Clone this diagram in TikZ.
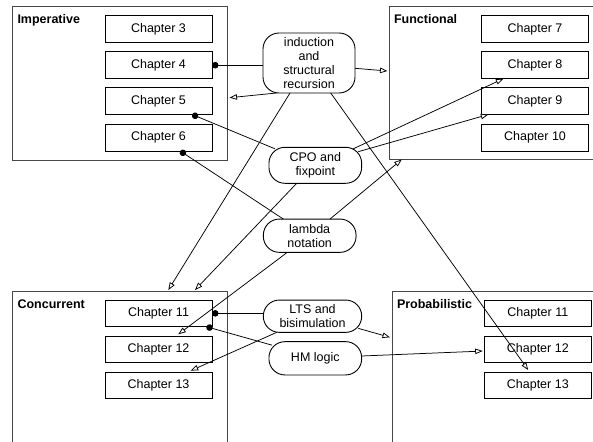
\documentclass[tikz,border=0pt]{standalone}
\usepackage{fontspec}
\setmainfont{Liberation Sans}
\usetikzlibrary{arrows.meta,calc}
\begin{document}
\begin{tikzpicture}[x=1pt,y=-1pt,
  every node/.style={font=\fontsize{12.5}{14.3}\selectfont, inner sep=0pt, outer sep=0pt},
  container/.style={draw=black!72, line width=1pt, minimum width=#1, anchor=north west},
  chap/.style={draw, line width=0.9pt, minimum width=107pt, minimum height=27pt, anchor=north west},
  topic/.style={draw, line width=0.9pt, rounded corners=16pt, align=center},
  grp/.style={font=\fontsize{12.5}{14.3}\selectfont\bfseries, anchor=base west},
  conn/.style={line width=0.75pt},
  oa/.style={-{Triangle[length=7.5pt,width=5.5pt,fill=white]}},
  dot/.style={{Circle[length=6.5pt]}-},
]
\useasboundingbox (0,0) rectangle (593,441);
\clip (0,0) rectangle (593,441);
% containers
\node[container=215pt, minimum height=153pt] (imp) at (12,7) {};
\node[container=215pt, minimum height=152pt] (fun) at (389,7) {};
\node[container=215pt, minimum height=170pt] (conc) at (12,291) {};
\node[container=215pt, minimum height=170pt] (prob) at (392,291) {};
\node[grp] (impl) at (17.5,24) {Imperative};
\node[grp] (funl) at (394,24) {Functional};
\node[grp] (concl) at (17.5,308) {Concurrent};
\node[grp] (probl) at (397,308) {Probabilistic};
% chapters
\node[chap] (ch3) at (105,15.7) {Chapter 3};
\node[chap] (ch4) at (105,51.7) {Chapter 4};
\node[chap] (ch5) at (105,87.5) {Chapter 5};
\node[chap] (ch6) at (105,124) {Chapter 6};
\node[chap, minimum width=106.6pt] (ch7) at (481.7,15.7) {Chapter 7};
\node[chap, minimum width=106.6pt] (ch8) at (481.7,51.7) {Chapter 8};
\node[chap, minimum width=106.6pt] (ch9) at (481.7,87.5) {Chapter 9};
\node[chap, minimum width=106.6pt] (ch10) at (481.7,124) {Chapter 10};
\node[chap, minimum height=26.7pt] (c11) at (105,300) {Chapter 11};
\node[chap, minimum height=26.7pt] (c12) at (105,336) {Chapter 12};
\node[chap, minimum height=26.7pt] (c13) at (105,372) {Chapter 13};
\node[chap, minimum height=26.7pt] (p11) at (484.3,300) {Chapter 11};
\node[chap, minimum height=26.7pt] (p12) at (484.3,336) {Chapter 12};
\node[chap, minimum height=26.7pt] (p13) at (484.3,372) {Chapter 13};
% topics
\node[topic, minimum width=92pt, minimum height=60pt] (ind) at (309,63) {induction\\and\\structural\\recursion};
\node[topic, minimum width=92.7pt, minimum height=36pt] (cpo) at (315.3,165.3) {CPO and\\fixpoint};
\node[topic, minimum width=92.7pt, minimum height=33.3pt] (lam) at (309.7,235.7) {lambda\\notation};
\node[topic, minimum width=98.4pt, minimum height=32.3pt] (lts) at (312.5,316.2) {LTS and\\bisimulation};
\node[topic, minimum width=92.7pt, minimum height=33.3pt] (hm) at (315.3,358.3) {HM logic};
% connectors
\draw[conn,dot] (ch4.east) -- (ch4.east -| ind.west);
\draw[conn,oa] ($(ind.south west)+(13.7,0)$) -- ($(imp.east)+(2.5,14.2)$);
\draw[conn,oa] ($(ind.east)+(0,5.3)$) -- ($(fun.west)+(-1.5,-12)$);
\draw[conn,oa] ($(ind.south)+(-19,0)$) -- ($(conc.north west)+(156.3,-1)$);
\draw[conn,oa] ($(ind.south)+(21.7,0)$) -- ($(p13.north)+(-9.6,-2)$);
\draw[conn,dot] ($(ch5.south east)+(-19.8,0)$) -- ($(cpo.north west)+(6,1.5)$);
\draw[conn,dot] ($(ch6.south east)+(-31.8,0)$) -- ($(lam.north)+(-26.4,0)$);
\draw[conn,oa] ($(cpo.north east)+(-8.4,1.5)$) -- ($(ch8.south west)+(21.6,0)$);
\draw[conn,oa] ($(cpo.north east)+(-3.4,4.4)$) -- ($(ch9.south west)+(6.6,0)$);
\draw[conn,oa] ($(cpo.south)+(-18.6,0)$) -- ($(conc.north west)+(183,-1)$);
\draw[conn,oa] ($(lam.north)+(20.3,0)$) -- ($(fun.south west)+(12.7,0.5)$);
\draw[conn,oa] ($(lam.south)+(-22.4,0)$) -- ($(c12.north)+(19.8,-1.7)$);
\draw[conn,dot] (c11.east) -- (c11.east -| lts.west);
\draw[conn,oa] ($(lts.south east)+(-3.4,-4)$) -- ($(prob.north west)+(-2,46.3)$);
\draw[conn,oa] ($(lts.south west)+(13.4,0)$) -- ($(c13.north east)+(-21.3,-1.3)$);
\draw[conn,dot] ($(c11.south east)+(-5.6,0)$) -- ($(hm.north west)+(3,3.5)$);
\draw[conn,oa] ($(hm.east)+(0,-2.3)$) -- ($(p12.west)+(-1.6,1.7)$);
\end{tikzpicture}
\end{document}
